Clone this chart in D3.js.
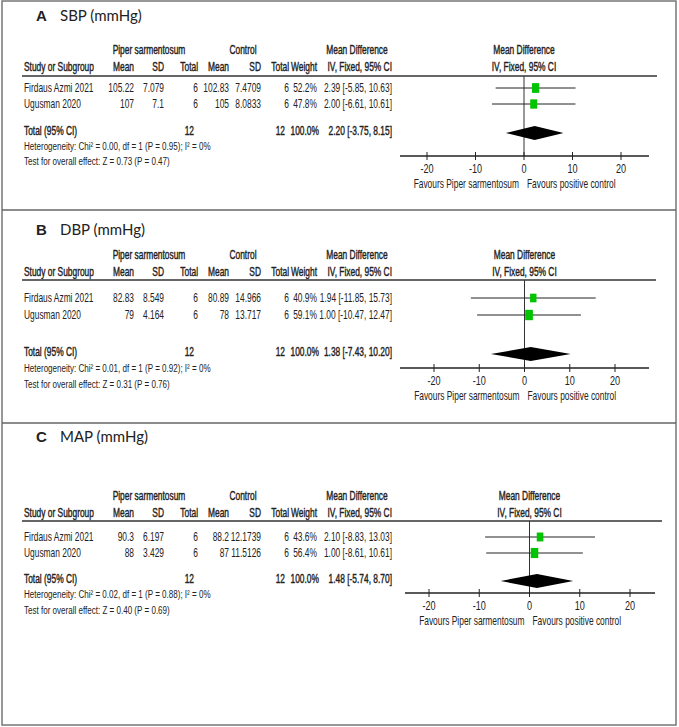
<!DOCTYPE html>
<html>
<head>
<meta charset="utf-8">
<script src="https://cdn.jsdelivr.net/npm/d3@7"></script>
<style>
  body { margin: 0; background: #fff; }
  text { font-family: "Liberation Sans", Arial, sans-serif; fill: #222; }
</style>
</head>
<body>
<div id="chart"></div>
<script>
var svgWidth = 679;
var svgHeight = 727;

// data
var panelLetters = ["A", "B", "C"];
var panelTitles = ["SBP (mmHg)", "DBP (mmHg)", "MAP (mmHg)"];
var studies = ["Firdaus Azmi 2021", "Ugusman 2020"];
var expMean = [[105.22, 107], [82.83, 79], [90.3, 88]];
var expSD = [[7.079, 7.1], [8.549, 4.164], [6.197, 3.429]];
var expN = [[6, 6], [6, 6], [6, 6]];
var ctrlMean = [[102.83, 105], [80.89, 78], [88.2, 87]];
var ctrlSD = [[7.4709, 8.0833], [14.966, 13.717], [12.1739, 11.5126]];
var ctrlN = [[6, 6], [6, 6], [6, 6]];
var weights = [[52.2, 47.8], [40.9, 59.1], [43.6, 56.4]];
var md = [[2.39, 2.00], [1.94, 1.00], [2.10, 1.00]];
var mdLo = [[-5.85, -6.61], [-11.85, -10.47], [-8.83, -8.61]];
var mdHi = [[10.63, 10.61], [15.73, 12.47], [13.03, 10.61]];
var totalMd = [2.20, 1.38, 1.48];
var totalLo = [-3.75, -7.43, -5.74];
var totalHi = [8.15, 10.20, 8.70];
var chi2 = ["0.00", "0.01", "0.02"];
var chi2P = ["0.95", "0.92", "0.88"];
var zVal = ["0.73", "0.31", "0.40"];
var zP = ["0.47", "0.76", "0.69"];
var tickValues = [-20, -10, 0, 10, 20];

// layout of each panel (pixel positions)
var layout = [
  { label: 16, h1: 50, h2: 67, line: 76, rows: [88, 104], tot: 131, het: 146, test: 161, axis: 156, tickLbl: 168, fav: 184,
    xr: [427, 621], axisX: [400, 649], lineEnd: 657 },
  { label: 230, h1: 255, h2: 272, line: 280, rows: [298, 315], tot: 352, het: 368, test: 384, axis: 368, tickLbl: 380, fav: 396,
    xr: [434, 615], axisX: [400, 649], lineEnd: 656 },
  { label: 437, h1: 496, h2: 513, line: 521, rows: [537, 553], tot: 579, het: 594, test: 610, axis: 593, tickLbl: 605, fav: 621,
    xr: [429, 630], axisX: [405, 655], lineEnd: 662 }
];
var dividers = [210, 423];

// table columns: right edges (left edge for study name)
var colStudy = 24;
var cols = { eMean: 134, eSD: 164, eN: 198, cMean: 229, cSD: 261, cN: 289, wt: 317, ci: 392 };
var narrow = 0.7;

var svg = d3.select("#chart")
  .append("svg")
  .attr("width", svgWidth)
  .attr("height", svgHeight);

svg.append("rect")
  .attr("x", 2).attr("y", 1)
  .attr("width", 674).attr("height", 724)
  .attr("fill", "none")
  .attr("stroke", "#777")
  .attr("stroke-width", 1.5);

dividers.forEach(function(y) {
  svg.append("line")
    .attr("x1", 2).attr("x2", 676)
    .attr("y1", y).attr("y2", y)
    .attr("stroke", "#666")
    .attr("stroke-width", 1.5);
});

// condensed text helper (strong = slightly heavier, like the headers)
function ntext(g, x, y, str, anchor, size, strong) {
  var t = g.append("text")
    .attr("transform", `translate(${x}, ${y}) scale(${narrow}, 1)`)
    .attr("dy", "0.35em")
    .attr("text-anchor", anchor || "start")
    .style("font-size", (size || 12) + "px")
    .text(str);
  if (strong) {
    t.style("stroke", "#222").style("stroke-width", "0.4px");
  }
  return t;
}

function fmtCI(m, lo, hi) {
  return m.toFixed(2) + " [" + lo.toFixed(2) + ", " + hi.toFixed(2) + "]";
}

panelLetters.forEach(function(letter, p) {
  var L = layout[p];
  var g = svg.append("g");

  // panel title
  g.append("text")
    .attr("x", 36).attr("y", L.label).attr("dy", "0.35em")
    .style("font-size", "15px").style("font-weight", "bold")
    .text(letter);
  g.append("text")
    .attr("x", 60).attr("y", L.label).attr("dy", "0.35em")
    .style("font-size", "15px")
    .style("font-family", "Lato, 'Open Sans', sans-serif")
    .text(panelTitles[p]);

  // headers
  ntext(g, 149, L.h1, "Piper sarmentosum", "middle", 12, true);
  ntext(g, 243, L.h1, "Control", "middle", 12, true);
  ntext(g, 357, L.h1, "Mean Difference", "middle", 12, true);
  ntext(g, colStudy, L.h2, "Study or Subgroup", "start", 12, true);
  ntext(g, cols.eMean, L.h2, "Mean", "end", 12, true);
  ntext(g, cols.eSD, L.h2, "SD", "end", 12, true);
  ntext(g, cols.eN, L.h2, "Total", "end", 12, true);
  ntext(g, cols.cMean, L.h2, "Mean", "end", 12, true);
  ntext(g, cols.cSD, L.h2, "SD", "end", 12, true);
  ntext(g, cols.cN, L.h2, "Total", "end", 12, true);
  ntext(g, cols.wt, L.h2, "Weight", "end", 12, true);
  ntext(g, cols.ci, L.h2, "IV, Fixed, 95% CI", "end", 12, true);

  var x = d3.scaleLinear().domain([-20, 20]).range(L.xr);

  ntext(g, x(0), L.h1, "Mean Difference", "middle", 12, true);
  ntext(g, x(0), L.h2, "IV, Fixed, 95% CI", "middle", 12, true);

  g.append("line")
    .attr("x1", 22).attr("x2", L.lineEnd)
    .attr("y1", L.line).attr("y2", L.line)
    .attr("stroke", "#333").attr("stroke-width", 1.3);

  // study rows
  studies.forEach(function(s, i) {
    var y = L.rows[i];
    ntext(g, colStudy, y, s, "start");
    ntext(g, cols.eMean, y, String(expMean[p][i]), "end");
    ntext(g, cols.eSD, y, String(expSD[p][i]), "end");
    ntext(g, cols.eN, y, String(expN[p][i]), "end");
    ntext(g, cols.cMean, y, String(ctrlMean[p][i]), "end");
    ntext(g, cols.cSD, y, String(ctrlSD[p][i]), "end");
    ntext(g, cols.cN, y, String(ctrlN[p][i]), "end");
    ntext(g, cols.wt, y, weights[p][i].toFixed(1) + "%", "end");
    ntext(g, cols.ci, y, fmtCI(md[p][i], mdLo[p][i], mdHi[p][i]), "end");
  });

  // totals
  var nE = d3.sum(expN[p]), nC = d3.sum(ctrlN[p]);
  ntext(g, colStudy, L.tot, "Total (95% CI)", "start", 12, true);
  ntext(g, cols.eN - 4, L.tot, String(nE), "end", 12, true);
  ntext(g, cols.cN - 4, L.tot, String(nC), "end", 12, true);
  ntext(g, cols.wt + 2, L.tot, d3.sum(weights[p]).toFixed(1) + "%", "end", 12, true);
  ntext(g, cols.ci, L.tot, fmtCI(totalMd[p], totalLo[p], totalHi[p]), "end", 12, true);
  ntext(g, colStudy, L.het, "Heterogeneity: Chi\u00b2 = " + chi2[p] + ", df = 1 (P = " + chi2P[p] + "); I\u00b2 = 0%", "start", 11.5);
  ntext(g, colStudy, L.test, "Test for overall effect: Z = " + zVal[p] + " (P = " + zP[p] + ")", "start", 11.5);

  // plot: zero line
  g.append("line")
    .attr("x1", x(0)).attr("x2", x(0))
    .attr("y1", L.line).attr("y2", L.axis)
    .attr("stroke", "#333").attr("stroke-width", 1);

  // CI lines and squares
  var rowsData = studies.map(function(s, i) {
    return { y: L.rows[i], md: md[p][i], lo: mdLo[p][i], hi: mdHi[p][i], w: weights[p][i] };
  });
  g.selectAll(".ci")
    .data(rowsData)
    .enter()
    .append("line")
    .attr("x1", d => x(d.lo)).attr("x2", d => x(d.hi))
    .attr("y1", d => d.y).attr("y2", d => d.y)
    .attr("stroke", "#222").attr("stroke-width", 1);
  g.selectAll(".sq")
    .data(rowsData)
    .enter()
    .append("rect")
    .attr("width", d => 10 * Math.sqrt(d.w / 100))
    .attr("height", d => 13.5 * Math.sqrt(d.w / 100))
    .attr("x", d => x(d.md) - 5 * Math.sqrt(d.w / 100))
    .attr("y", d => d.y - 6.75 * Math.sqrt(d.w / 100))
    .attr("fill", "#00c400");

  // diamond
  var dy = L.tot + 2;
  g.append("path")
    .attr("d", `M${x(totalLo[p])},${dy} L${x(totalMd[p])},${dy - 7} L${x(totalHi[p])},${dy} L${x(totalMd[p])},${dy + 7} Z`)
    .attr("fill", "#000");

  // axis
  g.append("line")
    .attr("x1", L.axisX[0]).attr("x2", L.axisX[1])
    .attr("y1", L.axis).attr("y2", L.axis)
    .attr("stroke", "#222").attr("stroke-width", 1.3);
  g.selectAll(".tick")
    .data(tickValues)
    .enter()
    .append("line")
    .attr("x1", d => x(d)).attr("x2", d => x(d))
    .attr("y1", L.axis - 4).attr("y2", L.axis + 4)
    .attr("stroke", "#222").attr("stroke-width", 1);
  tickValues.forEach(function(t) {
    ntext(g, x(t), L.tickLbl, String(t), "middle", 13);
  });

  ntext(g, x(0) - 5, L.fav, "Favours Piper sarmentosum", "end", 12);
  ntext(g, x(0) + 3, L.fav, "Favours positive control", "start", 12);
});
</script>
</body>
</html>
